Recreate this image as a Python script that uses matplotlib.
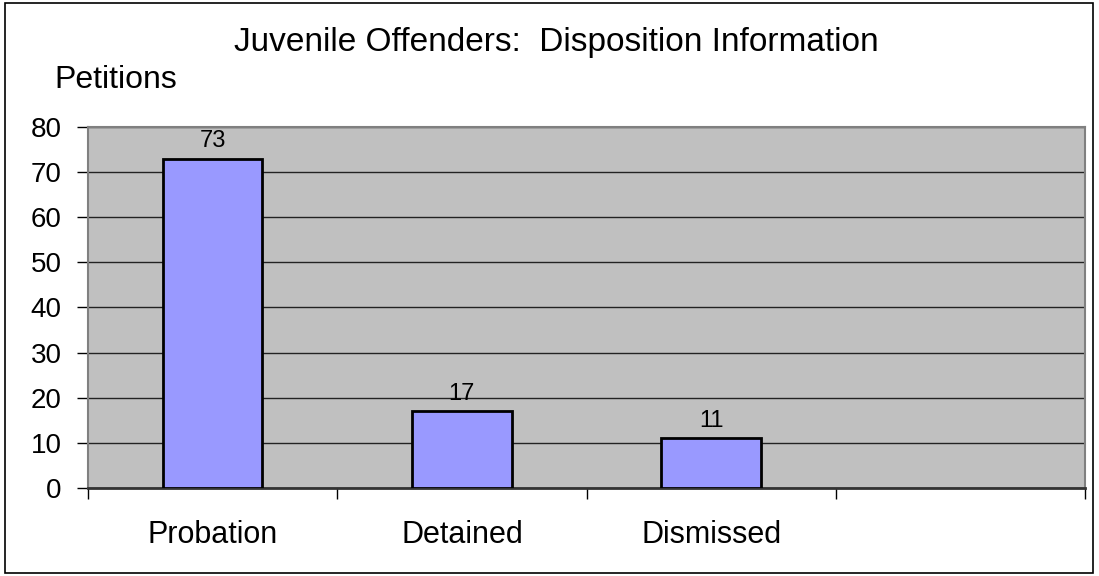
import matplotlib.pyplot as plt
from matplotlib.patches import Rectangle

plt.rcParams['font.family'] = ['Liberation Sans', 'DejaVu Sans']

categorias = ['Probation', 'Detained', 'Dismissed']
peticiones = [73, 17, 11]
n_slots = 4

fig = plt.figure(figsize=(10.99, 5.76), dpi=100)
ax = fig.add_axes([88 / 1099, 88 / 576, 997 / 1099, 361 / 576])
ax.set_facecolor('#C0C0C0')

x = list(range(len(categorias)))
barras = ax.bar(x, peticiones, width=0.4, color='#9999FF', edgecolor='black', linewidth=2, zorder=3)
for xi, v in zip(x, peticiones):
    ax.text(xi, v + 1.5, str(v), ha='center', va='bottom', fontsize=17)

ax.set_xlim(-0.5, n_slots - 0.5)
ax.set_ylim(0, 80)
ax.set_yticks(range(0, 81, 10))
ax.yaxis.grid(True, color='#222222', linewidth=1, zorder=1)
ax.tick_params(axis='y', labelsize=20, length=8, width=1, color='black', pad=11, direction='out')

# marcas en los limites de cada categoria, etiquetas en el centro
ax.set_xticks([i - 0.5 for i in range(n_slots + 1)])
ax.set_xticklabels([])
ax.set_xticks(x, minor=True)
ax.set_xticklabels(categorias, minor=True, fontsize=22)
ax.tick_params(axis='x', which='major', length=8, width=1, color='black', direction='out')
ax.tick_params(axis='x', which='minor', length=0, pad=23)

for lado in ['left', 'top', 'right']:
    ax.spines[lado].set_color('#808080')
    ax.spines[lado].set_linewidth(1.5)
ax.spines['bottom'].set_color('#333333')
ax.spines['bottom'].set_linewidth(2)

fig.text(556 / 1099, 1 - 43 / 576, 'Juvenile Offenders:  Disposition Information', ha='center', va='center', fontsize=24)
fig.text(116 / 1099, 1 - 80 / 576, 'Petitions', ha='center', va='center', fontsize=23)

fig.patches.append(Rectangle((5 / 1099, 3 / 576), 1088 / 1099, 570 / 576, transform=fig.transFigure,
                             fill=False, edgecolor='black', linewidth=1.2))

fig.savefig('out.png', dpi=100)
